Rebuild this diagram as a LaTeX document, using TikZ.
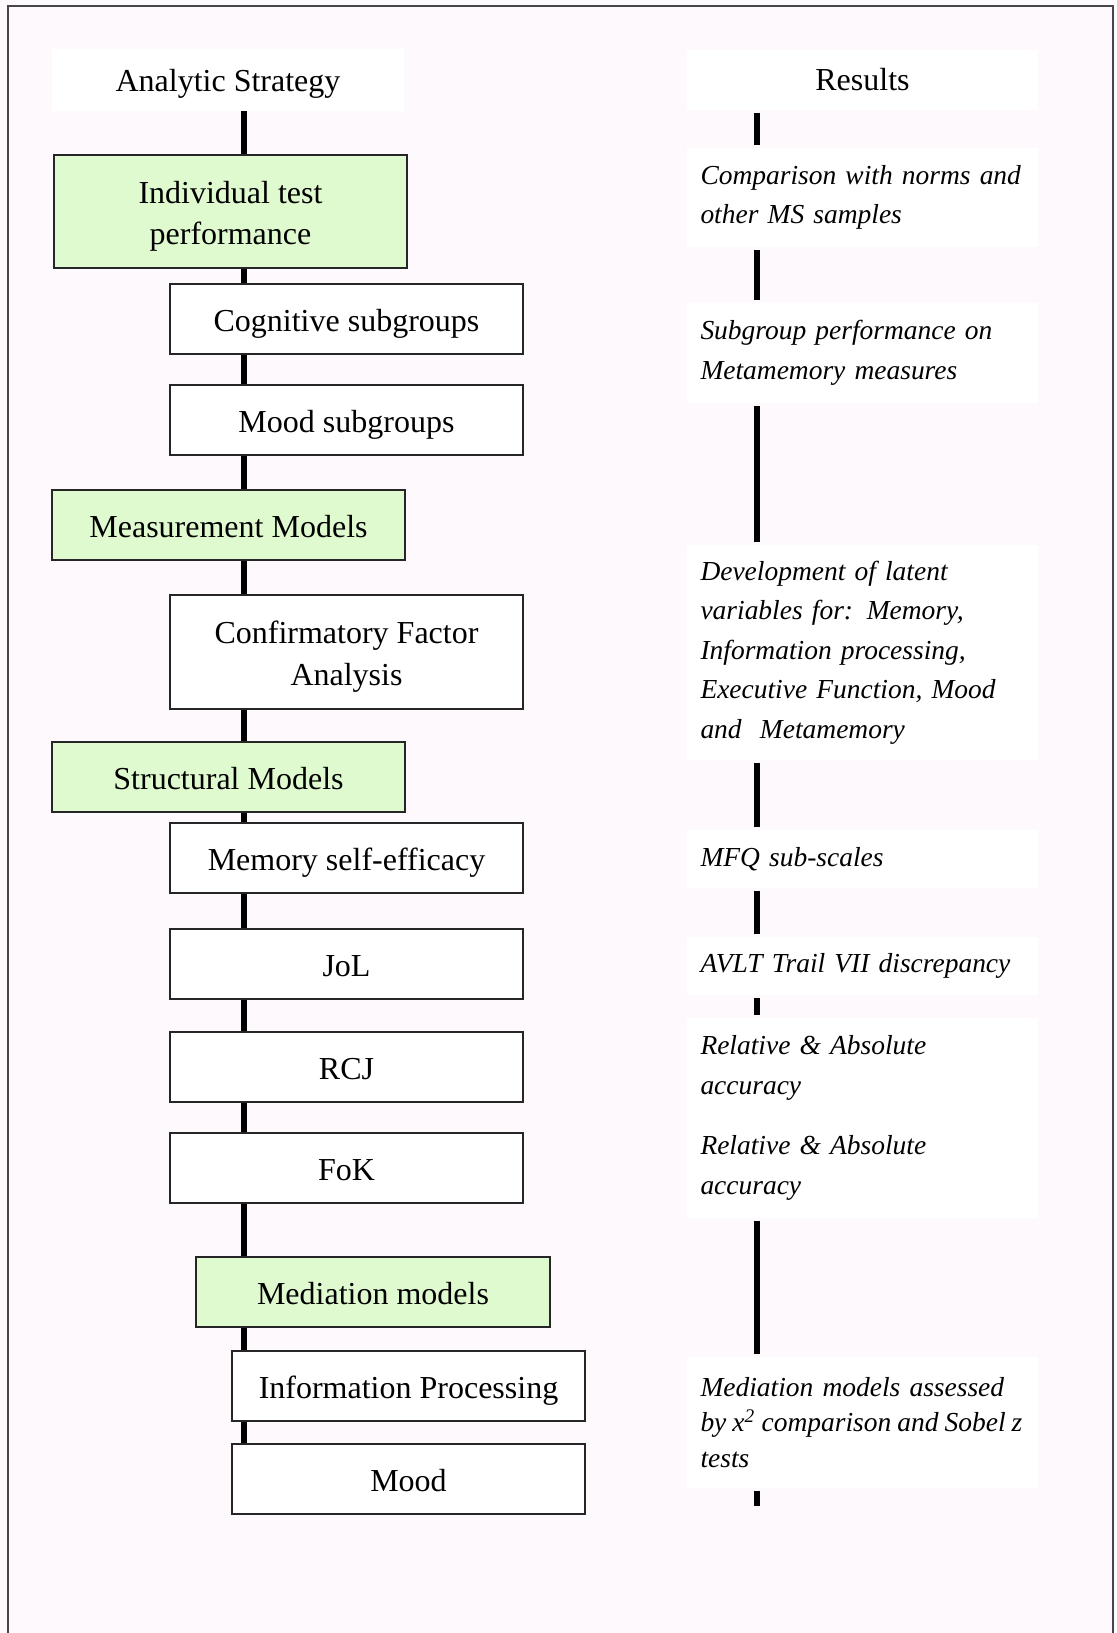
\documentclass[tikz,border=0pt]{standalone}
\usepackage{fontspec}
\setmainfont{Liberation Serif}
\definecolor{pagebg}{RGB}{253,249,253}
\definecolor{stagegreen}{RGB}{224,250,208}
\definecolor{framegray}{RGB}{70,70,70}
\newcommand{\toproom}{\rule{0pt}{12pt}}
\begin{document}
\begin{tikzpicture}[x=0.375pt,y=-0.375pt,
  boxfont/.style={font=\fontsize{12}{15.6}\selectfont},
  stagebox/.style={boxfont, draw=black!85, line width=0.75pt, fill=white,
    minimum width=132.4pt, minimum height=26.25pt, inner sep=0pt, align=center},
  oneline/.style={text height=11pt, text depth=1.5pt},
  tallbox/.style={stagebox, minimum height=42.6pt},
  greenbox/.style={stagebox, fill=stagegreen},
  headbox/.style={boxfont, fill=white, minimum width=132pt, minimum height=22.9pt, inner sep=0pt,
    text height=10pt, text depth=1.5pt},
  resultblock/.style={fill=white, font=\fontsize{10.3}{14.8}\selectfont\itshape,
    text width=121.5pt, inner xsep=5pt, inner ysep=0pt, minimum width=131.6pt, align=left},
  spine/.style={line width=2.25pt, black},
  frame/.style={line width=0.75pt, framegray}]

\useasboundingbox (0,0) rectangle (1116,1633);
\fill[pagebg] (0,0) rectangle (1116,1633);
\draw[frame] (8,1633) -- (8,6) -- (1113,6) -- (1113,1633);

% spine positions of the two columns
\coordinate (ls) at (243.6,0);
\coordinate (rs) at (757,0);

% ---------- left column: analytic strategy ----------
\node[headbox] (head) at (228,80) {Analytic Strategy};
\node[greenbox, minimum height=42.4pt] (indiv) at (230.5,211.5) {\toproom Individual test\\performance};
\node[stagebox, oneline] (cog) at (346.5,319) {Cognitive subgroups};
\node[stagebox, oneline] (moodsub) at (346.5,420) {Mood subgroups};
\node[greenbox, oneline] (meas) at (228.5,525) {Measurement Models};
\node[tallbox] (cfa) at (346.5,652) {\toproom Confirmatory Factor\\Analysis};
\node[greenbox, oneline] (struct) at (228.5,777) {Structural Models};
\node[stagebox, oneline] (mse) at (346.5,858) {Memory self-efficacy};
\node[stagebox, oneline] (jol) at (346.5,963.5) {JoL};
\node[stagebox, oneline] (rcj) at (346.5,1066.5) {RCJ};
\node[stagebox, oneline] (fok) at (346.5,1167.5) {FoK};
\node[greenbox, oneline] (medmod) at (373,1292) {Mediation models};
\node[stagebox, oneline] (info) at (408.5,1385.5) {Information Processing};
\node[stagebox, oneline] (mood) at (408.5,1479) {Mood};

\foreach \a/\b in {head/indiv, indiv/cog, cog/moodsub, moodsub/meas, meas/cfa,
                   cfa/struct, struct/mse, mse/jol, jol/rcj, rcj/fok, fok/medmod,
                   medmod/info, info/mood}
  \draw[spine] (\a.south -| ls) -- (\b.north -| ls);

% ---------- right column: results ----------
\node[headbox, minimum width=131.6pt, minimum height=22.5pt] (res) at (862.5,79.5) {Results};
\node[resultblock, minimum height=37.1pt] (r1) at (862.5,197.5)
  {Comparison with norms and\\other MS samples};
\node[resultblock, minimum height=37.5pt] (r2) at (862.5,353)
  {Subgroup performance on\\Metamemory measures};
\node[resultblock, minimum height=80.6pt] (r3) at (862.5,652.5)
  {Development of latent\\variables for: Memory,\\Information processing,\\Executive Function, Mood\\and\ \ Metamemory};
\node[resultblock, minimum height=21.75pt] (r4) at (862.5,859)
  {MFQ sub-scales};
\node[resultblock, minimum height=21.75pt] (r5) at (862.5,966)
  {AVLT Trail VII discrepancy};
\node[resultblock, minimum height=37.5pt] (r6) at (862.5,1068)
  {Relative \& Absolute\\accuracy};
\node[resultblock, minimum height=37.5pt] (r7) at (862.5,1168)
  {Relative \& Absolute\\accuracy};
\node[resultblock, minimum height=49.1pt, font=\fontsize{10.3}{13.4}\selectfont\itshape] (r8) at (862.5,1422.5)
  {Mediation models assessed\\\mbox{\spaceskip=0.22em by x\textsuperscript{2} comparison and Sobel z}\\tests};
\coordinate (rend) at (757,1506);

\foreach \a/\b in {res/r1, r1/r2, r2/r3, r3/r4, r4/r5, r5/r6, r7/r8}
  \draw[spine, shorten <=1.1pt, shorten >=1.1pt] (\a.south -| rs) -- (\b.north -| rs);
\draw[spine, shorten <=0.8pt] (r8.south -| rs) -- (rend);

\end{tikzpicture}
\end{document}
